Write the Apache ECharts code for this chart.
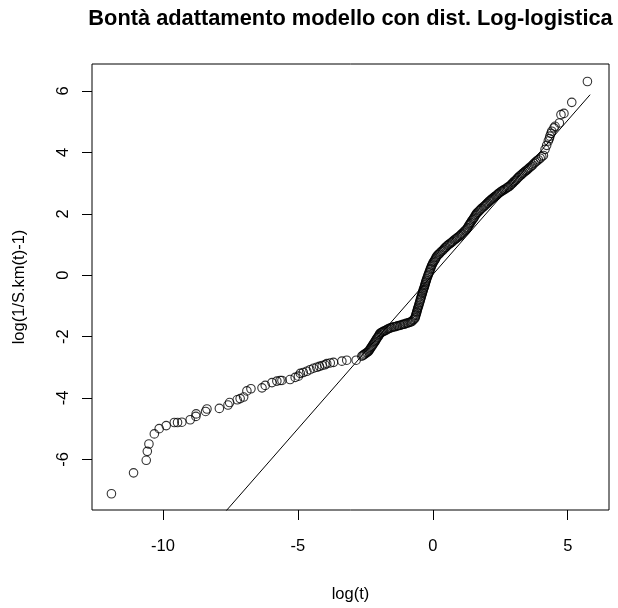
<!DOCTYPE html>
<html>
<head>
<meta charset="utf-8">
<title>Bontà adattamento modello con dist. Log-logistica</title>
<script src="https://cdn.jsdelivr.net/npm/echarts@6/dist/echarts.min.js"></script>
<style>
  html, body { margin: 0; padding: 0; background: #fff; }
  #chart { width: 618px; height: 608px; }
</style>
</head>
<body>
<div id="chart"></div>
<script>
// Kaplan-Meier transform log(1/S.km(t)-1) against log(t)
// early, sparse event times
const logTLow = [
  -11.91, -11.09, -10.62, -10.58, -10.52, -10.32, -10.14, -9.88, -9.58, -9.46,
  -9.30, -8.99, -8.78, -8.77, -8.42, -8.37, -7.91, -7.59, -7.53, -7.25,
  -7.14, -7.01, -6.89, -6.74, -6.33, -6.21, -5.96, -5.78, -5.66, -5.59,
  -5.29, -5.10, -4.98, -4.91, -4.80, -4.67, -4.55, -4.42, -4.30, -4.20,
  -4.10, -4.00, -3.93, -3.80, -3.68, -3.37, -3.19, -2.84
];
const logOddsLow = [
  -7.12, -6.44, -6.03, -5.74, -5.50, -5.17, -5.00, -4.90, -4.80, -4.80,
  -4.79, -4.71, -4.60, -4.52, -4.44, -4.36, -4.34, -4.23, -4.15, -4.06,
  -4.02, -3.97, -3.77, -3.70, -3.67, -3.59, -3.50, -3.45, -3.43, -3.43,
  -3.40, -3.33, -3.29, -3.20, -3.17, -3.13, -3.08, -3.03, -3.00, -2.97,
  -2.94, -2.92, -2.88, -2.86, -2.84, -2.80, -2.77, -2.77
];
// bulk of the event times (dense band)
const logTMid = [
  -2.63, -2.59, -2.55, -2.51, -2.46, -2.42, -2.38, -2.35, -2.32, -2.29,
  -2.26, -2.23, -2.20, -2.17, -2.14, -2.11, -2.09, -2.06, -2.03, -2.00,
  -1.98, -1.95, -1.91, -1.87, -1.83, -1.78, -1.73, -1.68, -1.63, -1.58,
  -1.53, -1.47, -1.42, -1.36, -1.31, -1.25, -1.20, -1.14, -1.09, -1.04,
  -0.99, -0.93, -0.88, -0.83, -0.78, -0.74, -0.70, -0.66, -0.65, -0.63,
  -0.62, -0.60, -0.59, -0.57, -0.56, -0.54, -0.52, -0.51, -0.49, -0.47,
  -0.46, -0.44, -0.43, -0.41, -0.39, -0.38, -0.36, -0.35, -0.33, -0.31,
  -0.30, -0.28, -0.27, -0.25, -0.24, -0.22, -0.20, -0.18, -0.16, -0.14,
  -0.12, -0.10, -0.08, -0.06, -0.04, -0.01, 0.01, 0.04, 0.07, 0.10,
  0.12, 0.15, 0.19, 0.23, 0.27, 0.31, 0.36, 0.40, 0.44, 0.48,
  0.52, 0.56, 0.61, 0.65, 0.70, 0.74, 0.79, 0.83, 0.88, 0.92,
  0.97, 1.01, 1.05, 1.09, 1.14, 1.18, 1.22, 1.26, 1.29, 1.32,
  1.35, 1.38, 1.41, 1.44, 1.48, 1.51, 1.54, 1.57, 1.60, 1.63,
  1.67, 1.71, 1.75, 1.79, 1.83, 1.88, 1.92, 1.96, 2.00, 2.04,
  2.08, 2.12, 2.16, 2.20, 2.24, 2.28, 2.33, 2.37, 2.41, 2.45,
  2.49, 2.54, 2.58, 2.63, 2.67, 2.72, 2.77, 2.81, 2.86, 2.90,
  2.94, 2.98, 3.02, 3.07, 3.11, 3.15, 3.19, 3.23, 3.28, 3.32,
  3.37, 3.42, 3.46, 3.51, 3.55, 3.60, 3.65, 3.70, 3.75, 3.80,
  3.85, 3.91, 3.98, 4.04, 4.10
];
const logOddsMid = [
  -2.64, -2.61, -2.59, -2.56, -2.53, -2.51, -2.48, -2.44, -2.40, -2.36,
  -2.32, -2.28, -2.24, -2.20, -2.16, -2.12, -2.08, -2.04, -2.01, -1.97,
  -1.93, -1.89, -1.87, -1.85, -1.83, -1.81, -1.79, -1.76, -1.74, -1.72,
  -1.71, -1.69, -1.68, -1.67, -1.65, -1.64, -1.63, -1.61, -1.60, -1.59,
  -1.57, -1.56, -1.54, -1.53, -1.51, -1.47, -1.44, -1.40, -1.36, -1.31,
  -1.27, -1.22, -1.18, -1.13, -1.08, -1.04, -0.99, -0.94, -0.89, -0.84,
  -0.79, -0.75, -0.70, -0.65, -0.60, -0.56, -0.51, -0.47, -0.42, -0.38,
  -0.33, -0.29, -0.24, -0.20, -0.16, -0.11, -0.06, -0.01, 0.03, 0.08,
  0.13, 0.18, 0.22, 0.27, 0.32, 0.36, 0.41, 0.45, 0.49, 0.53,
  0.58, 0.62, 0.66, 0.69, 0.73, 0.77, 0.80, 0.84, 0.88, 0.91,
  0.95, 0.98, 1.01, 1.04, 1.07, 1.10, 1.14, 1.17, 1.20, 1.23,
  1.26, 1.29, 1.33, 1.36, 1.40, 1.44, 1.47, 1.51, 1.55, 1.60,
  1.64, 1.68, 1.72, 1.77, 1.81, 1.85, 1.89, 1.94, 1.98, 2.02,
  2.05, 2.09, 2.12, 2.16, 2.19, 2.23, 2.26, 2.29, 2.33, 2.36,
  2.40, 2.43, 2.46, 2.49, 2.52, 2.55, 2.58, 2.61, 2.64, 2.67,
  2.70, 2.73, 2.75, 2.78, 2.80, 2.83, 2.86, 2.88, 2.91, 2.95,
  2.98, 3.02, 3.06, 3.09, 3.13, 3.17, 3.20, 3.24, 3.27, 3.31,
  3.34, 3.38, 3.41, 3.44, 3.48, 3.51, 3.55, 3.59, 3.64, 3.68,
  3.72, 3.76, 3.81, 3.86, 3.90
];
// late, sparse event times
const logTHigh = [4.16, 4.22, 4.28, 4.32, 4.34, 4.38, 4.41, 4.49, 4.53, 4.69, 4.75, 4.86, 5.15, 5.73];
const logOddsHigh = [4.10, 4.23, 4.37, 4.45, 4.53, 4.62, 4.69, 4.80, 4.85, 4.96, 5.23, 5.27, 5.63, 6.31];

// fitted log-logistic reference line (two ends over the data range)
const fitX = [-11.92, 5.83];
const fitY = [-11.96, 5.88];

const xTicks = [-10, -5, 0, 5];
const yTicks = [-6, -4, -2, 0, 2, 4, 6];

const titleText = 'Bontà adattamento modello con dist. Log-logistica';
const xTitle = 'log(t)';
const yTitle = 'log(1/S.km(t)-1)';

const FONT = '"Liberation Sans", Arial, Helvetica, sans-serif';

const logT = logTLow.concat(logTMid, logTHigh);
const logOdds = logOddsLow.concat(logOddsMid, logOddsHigh);
const points = logT.map((x, i) => [x, logOdds[i]]);
const fitLine = fitX.map((x, i) => [x, fitY[i]]);

const chart = echarts.init(document.getElementById('chart'), null, { renderer: 'canvas' });

const plotLeft = 92, plotTop = 64, plotWidth = 517, plotHeight = 449;

const axisCommon = {
  type: 'value',
  splitLine: { show: false },
  axisLine: { show: false, onZero: false },
  nameLocation: 'middle',
  nameTextStyle: { color: '#000', fontSize: 16.5, fontFamily: FONT }
};

chart.setOption({
  animation: false,
  backgroundColor: '#ffffff',
  graphic: [
    {
      type: 'text',
      x: plotLeft + plotWidth / 2,
      y: 19,
      style: {
        text: titleText,
        font: 'bold 21.8px ' + FONT,
        fill: '#000',
        align: 'center',
        verticalAlign: 'middle'
      }
    }
  ],
  grid: {
    left: plotLeft,
    top: plotTop,
    width: plotWidth,
    height: plotHeight,
    show: true,
    borderColor: '#000',
    borderWidth: 1,
    backgroundColor: 'transparent'
  },
  xAxis: Object.assign({}, axisCommon, {
    min: -12.63,
    max: 6.53,
    axisTick: {
      show: true, length: 10, inside: false, customValues: xTicks,
      lineStyle: { color: '#000', width: 1 }
    },
    axisLabel: {
      show: true, customValues: xTicks, margin: 28,
      color: '#000', fontSize: 16.5, fontFamily: FONT
    },
    name: xTitle,
    nameGap: 76
  }),
  yAxis: Object.assign({}, axisCommon, {
    min: -7.65,
    max: 6.88,
    axisTick: {
      show: true, length: 10, inside: false, customValues: yTicks,
      lineStyle: { color: '#000', width: 1 }
    },
    axisLabel: {
      show: true, customValues: yTicks, rotate: 90, margin: 20,
      color: '#000', fontSize: 16.5, fontFamily: FONT
    },
    name: yTitle,
    nameGap: 64,
    nameRotate: 90
  }),
  series: [
    {
      type: 'line',
      data: fitLine,
      clip: true,
      symbol: 'none',
      lineStyle: { color: '#000', width: 1 },
      silent: true,
      z: 2
    },
    {
      type: 'scatter',
      data: points,
      clip: true,
      symbol: 'circle',
      symbolSize: 8.5,
      itemStyle: { color: 'rgba(0,0,0,0)', borderColor: '#000', borderWidth: 1.1 },
      silent: true,
      z: 3
    }
  ]
});
</script>
</body>
</html>
